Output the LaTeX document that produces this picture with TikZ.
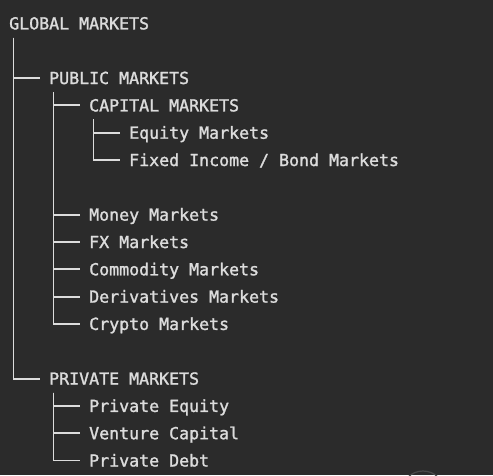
\documentclass[tikz,border=0pt]{standalone}
\usepackage{fontspec}
\setmonofont[FakeBold=1.5]{DejaVu Sans Mono}
\definecolor{bg}{HTML}{2B2B2B}
\definecolor{fg}{HTML}{DCDCDC}
\definecolor{faint}{HTML}{4A4A4A}
\tikzset{
  lbl/.style={anchor=base west, inner sep=0pt, text=fg, text height=12pt, text depth=0pt,
              font=\ttfamily\fontsize{16.6pt}{20pt}\selectfont},
  tree/.style={draw=fg, line width=1.9pt, line cap=butt, line join=miter, shorten >=9pt},
}
\begin{document}
\begin{tikzpicture}[x=1pt,y=-1pt]
\fill[bg] (0,0) rectangle (493,475);
\useasboundingbox (0,0) rectangle (493,475);
% labels
\node[lbl] (g)   at (9, 29.4)   {GLOBAL MARKETS};
\node[lbl] (pub) at (49, 84.0)  {PUBLIC MARKETS};
\node[lbl] (cap) at (89, 111.4) {CAPITAL MARKETS};
\node[lbl] (eq)  at (129, 138.7) {Equity Markets};
\node[lbl] (fi)  at (129, 166.0) {Fixed Income / Bond Markets};
\node[lbl] (mm)  at (89, 220.6) {Money Markets};
\node[lbl] (fx)  at (89, 248.0) {FX Markets};
\node[lbl] (cm)  at (89, 275.3) {Commodity Markets};
\node[lbl] (dm)  at (89, 302.6) {Derivatives Markets};
\node[lbl] (cr)  at (89, 329.9) {Crypto Markets};
\node[lbl] (pri) at (49, 384.6) {PRIVATE MARKETS};
\node[lbl] (pe)  at (89, 411.9) {Private Equity};
\node[lbl] (vc)  at (89, 439.2) {Venture Capital};
\node[lbl] (pd)  at (89, 466.5) {Private Debt};
% tree branch origins
\coordinate (t0) at (13.5, 37.5);
\coordinate (t1) at (53.5, 92.0);
\coordinate (t2) at (93.5, 119.3);
\coordinate (t3) at (53.5, 392.5);
% connectors
\foreach \c in {pub,pri} \draw[tree] (t0) |- (\c.west);
\foreach \c in {cap,mm,fx,cm,dm,cr} \draw[tree] (t1) |- (\c.west);
\foreach \c in {eq,fi} \draw[tree] (t2) |- (\c.west);
\foreach \c in {pe,vc,pd} \draw[tree] (t3) |- (\c.west);
% faint UI circle at bottom edge
\begin{scope}
\clip (0,0) rectangle (493,475);
\draw[faint, line width=1.2pt] (423,492.5) circle (21.5);
\end{scope}
\end{tikzpicture}
\end{document}
